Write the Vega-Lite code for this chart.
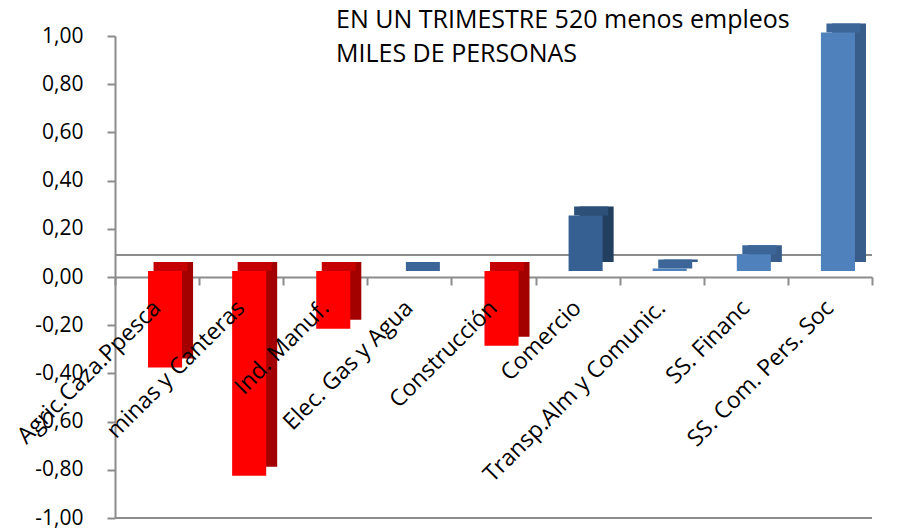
{
  "$schema": "https://vega.github.io/schema/vega-lite/v6.json",
  "width": 757,
  "height": 482,
  "autosize": "none",
  "padding": {"left": 115, "top": 36, "right": 31, "bottom": 14},
  "background": "white",
  "config": {"view": {"stroke": null}, "font": "Open Sans"},
  "title": {
    "text": ["EN UN TRIMESTRE 520 menos empleos", "MILES DE PERSONAS"],
    "anchor": "start",
    "frame": "group",
    "dx": 221,
    "offset": -44,
    "baseline": "top",
    "fontSize": 25,
    "fontWeight": "normal",
    "font": "Open Sans",
    "lineHeight": 34,
    "color": "black"
  },
  "data": {
    "values": [
      {"sector": "Agric.Caza.Ppesca", "value": -0.40, "group": "neg"},
      {"sector": "minas y Canteras", "value": -0.85, "group": "neg"},
      {"sector": "Ind. Manuf.", "value": -0.24, "group": "neg"},
      {"sector": "Elec. Gas y Agua", "value": 0.0, "group": "light"},
      {"sector": "Construcción", "value": -0.31, "group": "neg"},
      {"sector": "Comercio", "value": 0.23, "group": "dark"},
      {"sector": "Transp.Alm y Comunic.", "value": 0.01, "group": "light"},
      {"sector": "SS. Financ", "value": 0.07, "group": "light"},
      {"sector": "SS. Com. Pers. Soc", "value": 0.99, "group": "light"}
    ]
  },
  "layer": [
    {
      "data": {"values": [{"k": 1}]},
      "mark": {"type": "rule", "color": "#8c8c8c", "strokeWidth": 2, "yOffset": -22},
      "encoding": {"y": {"datum": 0, "type": "quantitative"}}
    },
    {
      "data": {"values": [{"k": 1}]},
      "mark": {"type": "rule", "color": "#8c8c8c", "strokeWidth": 2},
      "encoding": {"y": {"datum": -1, "type": "quantitative"}}
    },
    {
      "mark": {"type": "bar", "width": {"band": 0.405}, "xOffset": 19, "yOffset": -15},
      "encoding": {
        "x": {
          "field": "sector",
          "type": "nominal",
          "scale": {"domain": ["Agric.Caza.Ppesca", "minas y Canteras", "Ind. Manuf.", "Elec. Gas y Agua", "Construcción", "Comercio", "Transp.Alm y Comunic.", "SS. Financ", "SS. Com. Pers. Soc"], "paddingInner": 0, "paddingOuter": 0},
          "axis": {
            "title": null,
            "orient": "bottom",
            "offset": -241,
            "labels": false,
            "tickBand": "extent",
            "tickSize": 8,
            "tickColor": "#8c8c8c",
            "tickWidth": 2,
            "domainColor": "#8c8c8c",
            "domainWidth": 2,
            "zindex": 0
          }
        },
        "y": {"field": "value", "type": "quantitative"},
        "color": {"field": "group", "type": "nominal", "scale": {"domain": ["neg", "dark", "light"], "range": ["#A30000", "#233F60", "#385D8A"]}, "legend": null}
      }
    },
    {
      "transform": [{"filter": "datum.value >= 0"}],
      "mark": {"type": "tick", "size": 34, "thickness": 9, "xOffset": 13.5, "yOffset": -10.5, "opacity": 1},
      "encoding": {
        "x": {"field": "sector", "type": "nominal", "axis": null},
        "y": {"field": "value", "type": "quantitative"},
        "color": {"field": "group", "type": "nominal", "scale": {"domain": ["neg", "dark", "light"], "range": ["#C40000", "#2C5078", "#3C6698"]}, "legend": null}
      }
    },
    {
      "transform": [{"filter": "datum.value < 0"}],
      "mark": {"type": "tick", "size": 34, "thickness": 9, "xOffset": 13.5, "yOffset": -10.5, "opacity": 1},
      "encoding": {
        "x": {"field": "sector", "type": "nominal", "axis": null},
        "y": {"datum": 0, "type": "quantitative"},
        "color": {"field": "group", "type": "nominal", "scale": {"domain": ["neg", "dark", "light"], "range": ["#C40000", "#2C5078", "#3C6698"]}, "legend": null}
      }
    },
    {
      "mark": {"type": "bar", "width": {"band": 0.405}, "xOffset": 8, "yOffset": -6},
      "encoding": {
        "x": {
          "field": "sector",
          "type": "nominal",
          "axis": {
            "title": null,
            "orient": "bottom",
            "offset": -241,
            "domain": false,
            "ticks": false,
            "labelAngle": -45,
            "labelAlign": "right",
            "labelBaseline": "middle",
            "labelFontSize": 23,
            "labelFont": "Open Sans",
            "labelColor": "black",
            "labelPadding": 27,
            "labelLimit": 0,
            "zindex": 1
          }
        },
        "y": {
          "field": "value",
          "type": "quantitative",
          "scale": {"domain": [-1, 1], "nice": false},
          "axis": {
            "title": null,
            "grid": false,
            "values": [-1, -0.8, -0.6, -0.4, -0.2, 0, 0.2, 0.4, 0.6, 0.8, 1],
            "labelExpr": "replace(replace(format(datum.value, '.2f'), '.', ','), '\u2212', '-')",
            "tickSize": 8,
            "labelPadding": 24,
            "labelFontSize": 21,
            "labelFont": "Open Sans",
            "labelColor": "black",
            "domainColor": "#8c8c8c",
            "domainWidth": 2,
            "tickColor": "#8c8c8c",
            "tickWidth": 2
          }
        },
        "color": {"field": "group", "type": "nominal", "scale": {"domain": ["neg", "dark", "light"], "range": ["#FF0000", "#366092", "#4F81BD"]}, "legend": null}
      }
    }
  ],
  "resolve": {"scale": {"color": "independent"}, "axis": {"x": "independent"}}
}
